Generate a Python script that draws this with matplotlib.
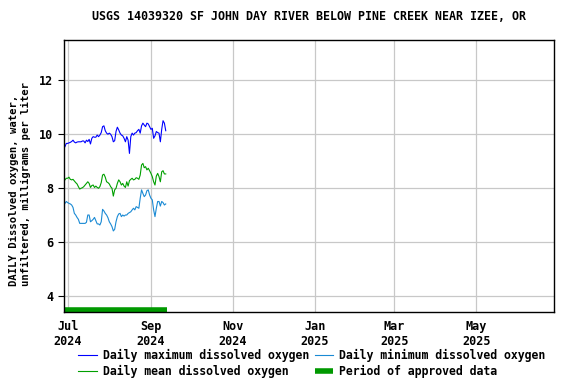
import numpy as np
import pandas as pd
import matplotlib
matplotlib.use("Agg")
import matplotlib.pyplot as plt
import matplotlib.dates as mdates
import matplotlib.transforms as mtransforms

#---------data----------------------------------
title = "USGS 14039320 SF JOHN DAY RIVER BELOW PINE CREEK NEAR IZEE, OR"
ylabel = "DAILY Dissolved oxygen, water,\nunfiltered, milligrams per liter"

start_date = "2024-06-29"

do_max = [9.53, 9.65, 9.65, 9.67, 9.69, 9.72, 9.77, 9.70, 9.67, 9.70,
          9.71, 9.71, 9.71, 9.74, 9.74, 9.67, 9.77, 9.72, 9.80, 9.63,
          9.84, 9.90, 9.88, 9.88, 9.96, 9.90, 9.96, 10.05, 10.27, 10.30,
          10.12, 10.03, 9.99, 10.03, 9.99, 9.90, 9.71, 9.75, 10.09, 10.25,
          10.15, 10.03, 9.96, 9.93, 9.84, 9.71, 9.90, 9.77, 9.28, 9.90,
          10.03, 9.96, 10.03, 10.05, 10.12, 10.17, 10.03, 10.30, 10.40, 10.33,
          10.27, 10.40, 10.37, 10.27, 10.17, 10.21, 9.84, 9.93, 10.09, 10.05,
          10.03, 9.71, 10.17, 10.49, 10.40, 10.12]

do_mean = [8.30, 8.36, 8.36, 8.40, 8.32, 8.30, 8.32, 8.26, 8.20, 8.15,
           8.05, 7.96, 7.99, 8.01, 8.05, 8.11, 8.17, 8.23, 8.17, 8.02,
           8.09, 8.11, 8.02, 8.07, 8.02, 7.99, 8.05, 8.20, 8.48, 8.51,
           8.40, 8.23, 8.20, 8.15, 8.05, 7.99, 7.70, 7.93, 7.99, 8.17,
           8.30, 8.23, 8.11, 8.17, 8.07, 8.02, 8.23, 8.07, 8.27, 8.32,
           8.36, 8.30, 8.32, 8.38, 8.36, 8.32, 8.48, 8.85, 8.91, 8.75,
           8.79, 8.67, 8.73, 8.64, 8.54, 8.42, 8.23, 8.11, 8.44, 8.54,
           8.42, 8.23, 8.60, 8.64, 8.52, 8.52]

do_min = [7.43, 7.50, 7.46, 7.43, 7.41, 7.37, 7.28, 7.06, 7.00, 6.91,
          6.84, 6.69, 6.69, 6.69, 6.69, 6.69, 6.73, 7.00, 7.00, 6.75,
          6.79, 6.84, 6.91, 6.79, 6.67, 6.67, 6.63, 6.75, 7.21, 7.15,
          7.06, 7.00, 6.90, 6.75, 6.67, 6.57, 6.41, 6.47, 6.75, 6.94,
          7.04, 7.06, 6.94, 7.00, 6.96, 7.00, 7.00, 7.06, 7.09, 7.12,
          7.19, 7.25, 7.19, 7.31, 7.28, 7.25, 7.62, 7.93, 7.80, 7.68,
          7.74, 7.90, 7.93, 7.74, 7.62, 7.56, 7.19, 6.94, 7.25, 7.50,
          7.50, 7.33, 7.50, 7.46, 7.37, 7.41]

approved_start = "2024-06-28"
approved_end = "2024-09-13"

dates = pd.date_range(start_date, periods=len(do_max), freq="D")

#---------style-----------
plt.rcParams["font.family"] = "DejaVu Sans Mono"
plt.rcParams["font.weight"] = "bold"

fig = plt.figure(figsize=(5.76, 3.84), dpi=100)
ax = fig.add_axes([0.111, 0.1875, 0.851, 0.7085])

ax.plot(dates, do_max, color="#0000ff", lw=0.8, label="Daily maximum dissolved oxygen")
ax.plot(dates, do_mean, color="#00a000", lw=0.8, label="Daily mean dissolved oxygen")
ax.plot(dates, do_min, color="#1a8ad4", lw=0.8, label="Daily minimum dissolved oxygen")

# approved period bar sits on the bottom of the plot
trans = mtransforms.blended_transform_factory(ax.transData, ax.transAxes)
ax.plot([pd.Timestamp(approved_start), pd.Timestamp(approved_end)], [0.008, 0.008],
        color="#009900", lw=4, solid_capstyle="butt", transform=trans,
        label="Period of approved data", clip_on=False)

ax.set_xlim(pd.Timestamp("2024-06-28 06:00"), pd.Timestamp("2025-06-28"))
ax.set_ylim(3.41, 13.48)
ax.set_yticks([4, 6, 8, 10, 12])

ax.xaxis.set_major_locator(mdates.MonthLocator(bymonth=[1, 3, 5, 7, 9, 11]))
ax.xaxis.set_major_formatter(mdates.DateFormatter("%b\n%Y"))
ax.tick_params(axis="x", length=0, pad=6, labelsize=8.5)
ax.tick_params(axis="y", length=4, width=0.8, labelsize=8.5)

ax.grid(True, color="#c8c8c8", lw=0.9)
ax.set_axisbelow(True)
for s in ax.spines.values():
    s.set_color("black")
    s.set_linewidth(1.0)

ax.set_ylabel(ylabel, fontsize=7.6, fontweight="bold", multialignment="left")
ax.yaxis.set_label_coords(-0.067, 0.47)
ax.set_title(title, fontsize=8.35, fontweight="bold", pad=14)

fig.legend(loc="lower left", bbox_to_anchor=(0.118, -0.012), ncol=2, frameon=False,
           fontsize=8.3, handlelength=1.6, handletextpad=0.5, columnspacing=0.5,
           labelspacing=0.3)

fig.savefig("out.png", dpi=100)
